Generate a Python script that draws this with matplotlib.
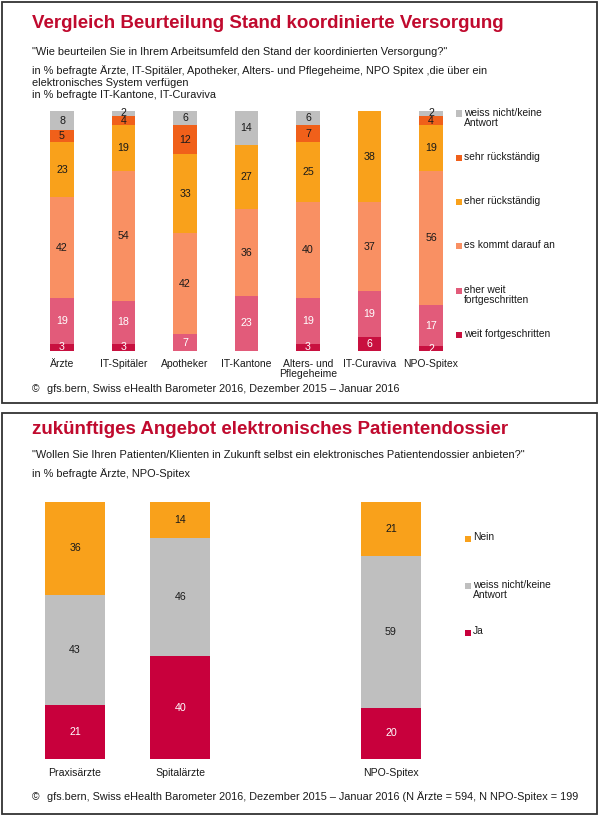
import numpy as np
import matplotlib
matplotlib.use("Agg")
import matplotlib.pyplot as plt
from matplotlib.patches import Rectangle

plt.rcParams['font.family'] = ['Liberation Sans', 'DejaVu Sans']

W, H = 600, 817

# --- top chart data (bottom to top) ---
groups_top = ['Ärzte', 'IT-Spitäler', 'Apotheker', 'IT-Kantone',
              'Alters- und\nPflegeheime', 'IT-Curaviva', 'NPO-Spitex']
series_top = ['weit fortgeschritten', 'eher weit\nfortgeschritten',
              'es kommt darauf an', 'eher rückständig',
              'sehr rückständig', 'weiss nicht/keine\nAntwort']
weit = [3, 3, 0, 0, 3, 6, 2]
eher_weit = [19, 18, 7, 23, 19, 19, 17]
kommt_an = [42, 54, 42, 36, 40, 37, 56]
eher_rueck = [23, 19, 33, 27, 25, 38, 19]
sehr_rueck = [5, 4, 12, 0, 7, 0, 4]
weiss_top = [8, 2, 6, 14, 6, 0, 2]
colors_top = ['#c8103f', '#e25b7a', '#f99063', '#f9a11b', '#f0601a', '#bfbfbf']
white_top = [True, True, False, False, False, False]

# --- bottom chart data (bottom to top) ---
groups_bot = ['Praxisärzte', 'Spitalärzte', '', 'NPO-Spitex']
series_bot = ['Ja', 'weiss nicht/keine\nAntwort', 'Nein']
ja = [21, 40, np.nan, 20]
weiss_bot = [43, 46, np.nan, 59]
nein = [36, 14, np.nan, 21]
colors_bot = ['#c8003c', '#bfbfbf', '#f9a11b']
white_bot = [True, False, False]

RED = '#c00a2e'
TXT = '#1a1a1a'
SUB = 7.9


def fx(px):
    return px / W


def fy(py):
    return 1 - py / H


def axes_px(fig, left, top, right, bottom):
    return fig.add_axes([fx(left), fy(bottom), (right - left) / W, (bottom - top) / H])


def stacked(ax, data, colors, white, width):
    n = len(data[0])
    x = np.arange(n)
    base = np.zeros(n)
    for vals, col, wh in zip(data, colors, white):
        v = np.array(vals, dtype=float)
        ok = ~np.isnan(v)
        ax.bar(x[ok], v[ok], width, bottom=base[ok], color=col, linewidth=0)
        for xi, b, val in zip(x[ok], base[ok], v[ok]):
            if val > 0:
                ax.text(xi, b + val / 2, f'{int(val)}', ha='center', va='center',
                        fontsize=7.7, color='white' if wh else TXT)
        base[ok] += v[ok]
    ax.set_ylim(0, 100)
    ax.set_xlim(-0.5, n - 0.5)
    ax.axis('off')


def legend(fig, labels, colors, x, y0, step):
    for i, (lab, col) in enumerate(zip(labels, colors)):
        y = y0 + step * i
        fig.patches.append(Rectangle((fx(x), fy(y + 3.5)), 6 / W, 6 / H,
                                     transform=fig.transFigure, color=col, lw=0))
        fig.text(fx(x + 8), fy(y - 5.5), lab, ha='left', va='top',
                 fontsize=7.4, color=TXT, linespacing=1.05)


fig = plt.figure(figsize=(W / 100, H / 100), dpi=100)

# panel borders
for top, bottom in [(2, 403), (413, 814)]:
    fig.patches.append(Rectangle((fx(2), fy(bottom)), 595 / W, (bottom - top) / H,
                                 transform=fig.transFigure, fill=False,
                                 edgecolor='#333333', lw=1.3))

# ---------- top panel ----------
fig.text(fx(32), fy(23), 'Vergleich Beurteilung Stand koordinierte Versorgung',
         fontsize=13.5, fontweight='bold', color=RED, va='center')
fig.text(fx(32), fy(52), '"Wie beurteilen Sie in Ihrem Arbeitsumfeld den Stand der koordinierten Versorgung?"',
         fontsize=SUB, color=TXT, va='center')
sub_lines = ['in % befragte Ärzte, IT-Spitäler, Apotheker, Alters- und Pflegeheime, NPO Spitex ,die über ein',
             'elektronisches System verfügen',
             'in % befragte IT-Kantone, IT-Curaviva']
for i, line in enumerate(sub_lines):
    fig.text(fx(32), fy(71 + 12 * i), line, fontsize=SUB, color=TXT, va='center')

ax1 = axes_px(fig, 31.25, 111, 461.75, 351)
stacked(ax1, [weit, eher_weit, kommt_an, eher_rueck, sehr_rueck, weiss_top],
        colors_top, white_top, 0.39)
for i, g in enumerate(groups_top):
    ax1.text(i, -3.2, g, ha='center', va='top', fontsize=7.5, color=TXT,
             linespacing=1.0)

legend(fig, series_top[::-1], colors_top[::-1], 456, 113, 44.3)

fig.text(fx(32), fy(389), '©', fontsize=7.4, color=TXT, va='center')
fig.text(fx(47), fy(389), 'gfs.bern, Swiss eHealth Barometer 2016, Dezember 2015 – Januar 2016',
         fontsize=7.8, color=TXT, va='center')

# ---------- bottom panel ----------
fig.text(fx(32), fy(429), 'zukünftiges Angebot elektronisches Patientendossier',
         fontsize=13.5, fontweight='bold', color=RED, va='center')
fig.text(fx(32), fy(455), '"Wollen Sie Ihren Patienten/Klienten in Zukunft selbst ein elektronisches Patientendossier anbieten?"',
         fontsize=SUB, color=TXT, va='center')
fig.text(fx(32), fy(474), 'in % befragte Ärzte, NPO-Spitex',
         fontsize=SUB, color=TXT, va='center')

ax2 = axes_px(fig, 22.35, 502, 443.55, 759)
stacked(ax2, [ja, weiss_bot, nein], colors_bot, white_bot, 0.57)
for i, g in enumerate(groups_bot):
    ax2.text(i, -3.5, g, ha='center', va='top', fontsize=7.6, color=TXT)

legend(fig, series_bot[::-1], colors_bot[::-1], 465, 538, 47)

fig.text(fx(32), fy(797), '©', fontsize=7.4, color=TXT, va='center')
fig.text(fx(47), fy(797), 'gfs.bern, Swiss eHealth Barometer 2016, Dezember 2015 – Januar 2016 (N Ärzte = 594, N NPO-Spitex = 199',
         fontsize=7.8, color=TXT, va='center')

fig.savefig('out.png', dpi=100)
